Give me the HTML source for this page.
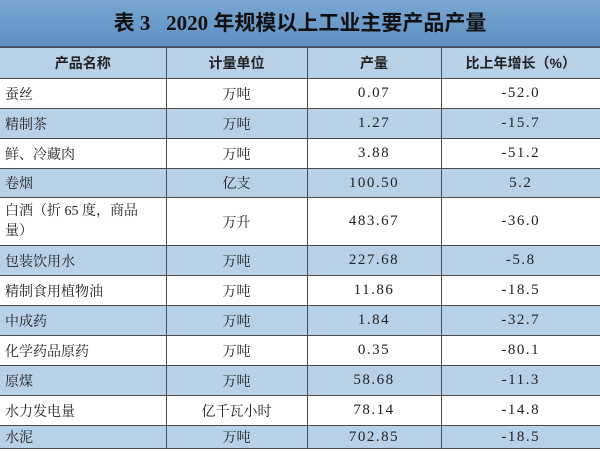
<!DOCTYPE html>
<html><head><meta charset="utf-8"><style>
body{margin:0;width:600px;height:452px;background:#fff;overflow:hidden;font-family:"Liberation Serif","Noto Serif CJK SC",serif;}
.t{position:absolute;left:0;top:0;width:600px;height:46px;background:linear-gradient(#7aa7d3,#5f90c2);border-bottom:1px solid #3d5f80;text-align:center;line-height:46px;font-size:21px;color:#111;font-weight:bold;font-family:"Liberation Serif","Noto Sans CJK SC",serif;}
table{position:absolute;left:0;top:47px;border-collapse:collapse;width:600px;table-layout:fixed;font-size:14px;color:#222;}
td{border:1px solid #4a4a4a;padding:0 5px;text-align:center;font-family:"Liberation Serif","Noto Serif CJK SC",serif;}
td:first-child{text-align:left;border-left:none;}
td:last-child{border-right:none;}
tr.b td{background:#b9d1e7;}
tr.h td{font-weight:bold;text-align:center;font-family:"Liberation Sans","Noto Sans CJK SC",sans-serif;}
td.n{letter-spacing:1.5px;font-size:15px;}
</style></head><body>
<div class="t">表 3&nbsp;&nbsp;&nbsp;2020 年规模以上工业主要产品产量</div>
<table>
<colgroup><col style="width:166px"><col style="width:141px"><col style="width:134px"><col style="width:159px"></colgroup>
<tr class="b h" style="height:31px"><td>产品名称</td><td>计量单位</td><td>产量</td><td>比上年增长（%）</td></tr>
<tr style="height:30px"><td>蚕丝</td><td>万吨</td><td class="n">0.07</td><td class="n">-52.0</td></tr>
<tr class="b" style="height:30px"><td>精制茶</td><td>万吨</td><td class="n">1.27</td><td class="n">-15.7</td></tr>
<tr style="height:30px"><td>鲜、冷藏肉</td><td>万吨</td><td class="n">3.88</td><td class="n">-51.2</td></tr>
<tr class="b" style="height:29px"><td>卷烟</td><td>亿支</td><td class="n">100.50</td><td class="n">5.2</td></tr>
<tr style="height:48px"><td style="line-height:20px">白酒（折 65 度，商品<br>量）</td><td>万升</td><td class="n">483.67</td><td class="n">-36.0</td></tr>
<tr class="b" style="height:30px"><td>包装饮用水</td><td>万吨</td><td class="n">227.68</td><td class="n">-5.8</td></tr>
<tr style="height:30px"><td>精制食用植物油</td><td>万吨</td><td class="n">11.86</td><td class="n">-18.5</td></tr>
<tr class="b" style="height:30px"><td>中成药</td><td>万吨</td><td class="n">1.84</td><td class="n">-32.7</td></tr>
<tr style="height:30px"><td>化学药品原药</td><td>万吨</td><td class="n">0.35</td><td class="n">-80.1</td></tr>
<tr class="b" style="height:30px"><td>原煤</td><td>万吨</td><td class="n">58.68</td><td class="n">-11.3</td></tr>
<tr style="height:30px"><td>水力发电量</td><td>亿千瓦小时</td><td class="n">78.14</td><td class="n">-14.8</td></tr>
<tr class="b" style="height:23px"><td>水泥</td><td>万吨</td><td class="n">702.85</td><td class="n">-18.5</td></tr>
</table>
</body></html>
